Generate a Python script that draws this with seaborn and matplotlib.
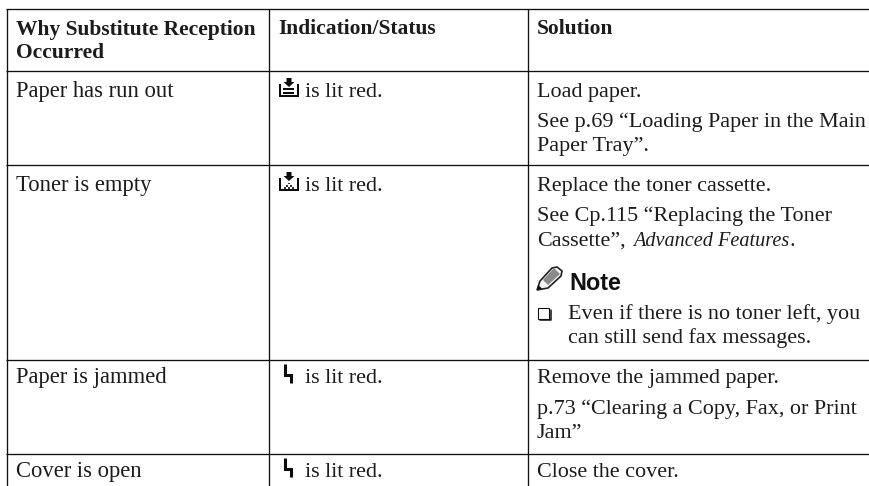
import matplotlib
matplotlib.use("Agg")
import matplotlib.pyplot as plt
from matplotlib.patches import Polygon, Rectangle
import seaborn as sns

sns.set_theme(style="white")
plt.rcParams['font.family'] = ['Liberation Serif', 'DejaVu Serif']

INK = "#1c1c1c"
DARK = "#0c0c0c"
SIZE = 15.9
CAUSE_SIZE = 16.3
ITALIC_SIZE = 14.6
BOLD = 15.5

headers = ["Why Substitute Reception\nOccurred", "Indication/Status", "Solution"]
causes = ["Paper has run out", "Toner is empty", "Paper is jammed", "Cover is open"]
status = ["is lit red.", "is lit red.", "is lit red.", "is lit red."]
icons = ["paper", "toner", "bolt", "bolt"]
solutions = [
    [("Load paper.", 97), ("See p.69 \u201cLoading Paper in the Main", 127), ("Paper Tray\u201d.", 151)],
    [("Replace the toner cassette.", 191), ("See Cp.115 \u201cReplacing the Toner", 221)],
    [("Remove the jammed paper.", 383), ("p.73 \u201cClearing a Copy, Fax, or Print", 414), ("Jam\u201d", 438)],
    [("Close the cover.", 477)],
]
note_title = "Note"
note_lines = ["Even if there is no toner left, you", "can still send fax messages."]

row_lines = [9.5, 71.5, 165.5, 359.5, 453.5]
col_lines = [7, 269, 528]
row_base = [97, 191, 383, 477]

fig = plt.figure(figsize=(8.7, 4.86), dpi=100, facecolor="white")
ax = fig.add_axes([0, 0, 1, 1])
ax.set_xlim(0, 870)
ax.set_ylim(486, 0)
ax.axis("off")

ax.hlines(row_lines, 6, 870, color="#111111", lw=0.95)
ax.vlines(col_lines, 9.5, 486, color="#111111", lw=0.95)


def put(x, y, s, **kw):
    kw.setdefault("fontsize", SIZE)
    kw.setdefault("color", INK)
    return ax.text(x, y, s, ha="left", va="baseline", **kw)


def icon_tray(x, y, toner=False):
    # x: left edge of the 20 px wide icon, y: its bottom
    ax.add_patch(Polygon([(x+7.5, y-19), (x+12.5, y-19), (x+12.5, y-15), (x+15.5, y-15),
                          (x+10, y-10), (x+4.5, y-15), (x+7.5, y-15)],
                         closed=True, color=DARK, lw=0))
    ax.add_patch(Polygon([(x, y-13), (x+2.4, y-13), (x+2.4, y-2.4), (x+17.6, y-2.4),
                          (x+17.6, y-13), (x+20, y-13), (x+20, y), (x, y)],
                         closed=True, color=DARK, lw=0))
    if toner:
        for dx, dy in [(10, 8.5), (8, 6.2), (12, 6.2), (6, 4.2), (10, 4.2), (14, 4.2)]:
            ax.add_patch(Rectangle((x+dx-0.9, y-dy), 1.8, 1.8, color="#333333", lw=0))
    else:
        for dy in (5, 8.5):
            ax.add_patch(Rectangle((x+4.5, y-dy), 11, 1.6, color=DARK, lw=0))


def icon_bolt(x, y):
    ax.plot([x+1.5, x+1.5, x+7.5, x+7.5], [y-19, y-8.5, y-8.5, y], color=DARK, lw=2.2,
            solid_capstyle="butt", solid_joinstyle="miter")


def icon_pencil(x, y):
    ax.add_patch(Polygon([(x, y), (x+3, y-9), (x+15, y-22), (x+20, y-23), (x+25, y-19),
                          (x+24, y-14), (x+11, y-2)],
                         closed=True, fc="#f4f4f4", ec="#222222", lw=1.2))
    ax.add_patch(Polygon([(x+6, y-10), (x+17, y-22), (x+23, y-16), (x+11, y-5)],
                         closed=True, fc="#8a8a8a", lw=0))
    ax.add_patch(Polygon([(x, y), (x+1.4, y-5), (x+5, y-1.4)], closed=True, fc="#111111", lw=0))


# header
for (cx, h) in zip([16, 278, 537], headers):
    for k, part in enumerate(h.split("\n")):
        put(cx, 34.5 + 24 * k, part, fontweight="bold", fontsize=BOLD)

# rows
for name, s, ic, base in zip(causes, status, icons, row_base):
    put(16, base, name, fontsize=CAUSE_SIZE)
    if ic == "bolt":
        icon_bolt(284, base)
    else:
        icon_tray(279, base, toner=ic == "toner")
    put(305, base, s)

for block in solutions:
    for s, y in block:
        put(537, y, s)

# mixed roman / italic line
fig.canvas.draw()
r = fig.canvas.get_renderer()
x = 537
for s, st, fs in [("Cassette\u201d,", "normal", SIZE), ("Advanced Features", "italic", ITALIC_SIZE), (".", "normal", SIZE)]:
    t = put(x, 245.5, s, style=st, fontsize=fs)
    x += t.get_window_extent(r).width + (7 if s.endswith(",") else 0.5)

# note block
icon_pencil(537, 290)
put(569, 290, note_title, fontfamily="Liberation Sans", fontweight="bold", fontsize=16.8, color="#111111")
ax.add_patch(Rectangle((538, 307.5), 11, 11, fc="white", ec="#111111", lw=0.8))
ax.plot([540, 551, 551], [320, 320, 309.5], color="#111111", lw=1.1)
put(568, 319, note_lines[0])
put(568, 343, note_lines[1])

fig.savefig("out.png", dpi=100, facecolor="white")
